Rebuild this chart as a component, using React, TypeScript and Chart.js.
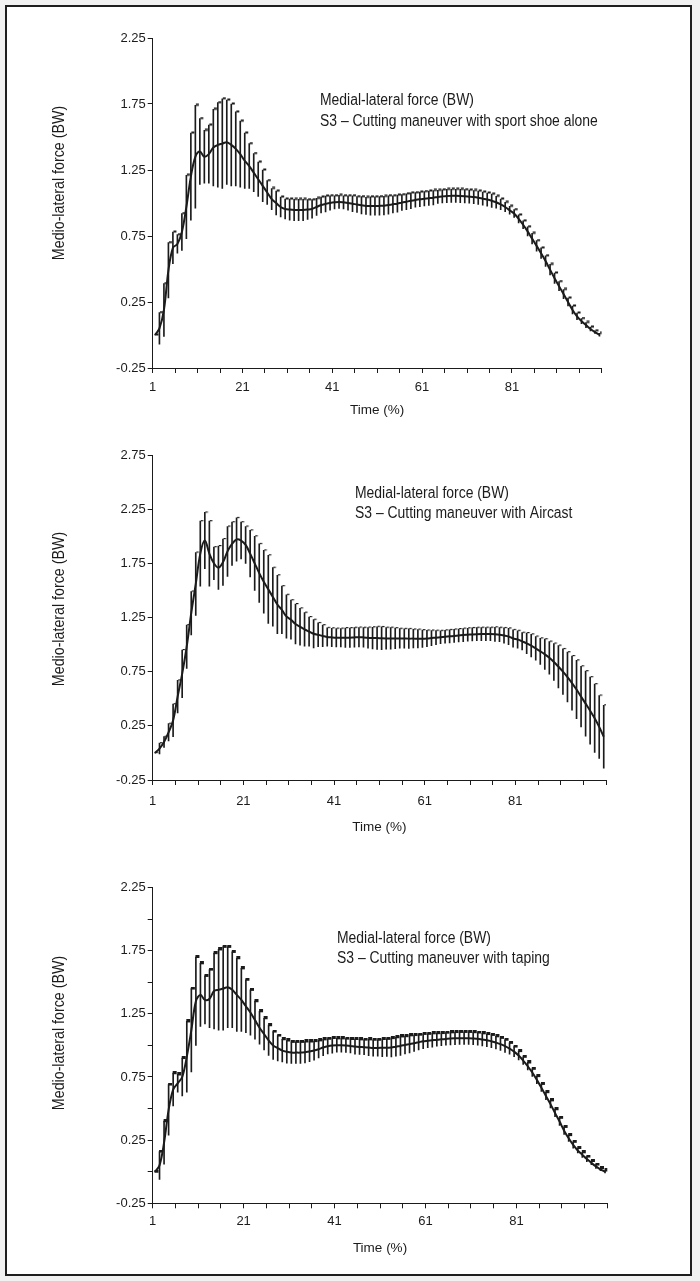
import React, { useEffect, useRef } from 'react';
import { Chart, registerables } from 'chart.js';

Chart.register(...registerables);

// ---------- data ----------
const TIME: number[] = Array.from({ length: 100 }, (_, i) => i + 1); // Time (%) 1..100
const X_TICK_LABELS = ['1', '21', '41', '61', '81'];
const X_TICK_EVERY = 5;

const Y_TITLE = 'Medio-lateral force (BW)';
const X_TITLE = 'Time (%)';
const NOTE_TITLE = 'Medial-lateral force (BW)';
const NOTE_SHOE = 'S3 – Cutting maneuver with sport shoe alone';
const NOTE_AIRCAST = 'S3 – Cutting maneuver with Aircast';
const NOTE_TAPING = 'S3 – Cutting maneuver with taping';

const MEAN_SHOE = [
  0.00, 0.05, 0.19, 0.49, 0.66, 0.69, 0.78, 0.97, 1.20, 1.35,
  1.39, 1.35, 1.37, 1.42, 1.44, 1.45, 1.46, 1.44, 1.41, 1.37,
  1.32, 1.28, 1.23, 1.18, 1.13, 1.08, 1.03, 1.00, 0.97, 0.955,
  0.95, 0.947, 0.947, 0.947, 0.95, 0.955, 0.97, 0.985, 0.993, 1.00,
  1.005, 1.008, 1.005, 1.00, 0.995, 0.988, 0.983, 0.978, 0.977, 0.977,
  0.978, 0.98, 0.985, 0.99, 0.995, 1.003, 1.01, 1.017, 1.023, 1.028,
  1.032, 1.036, 1.04, 1.046, 1.05, 1.053, 1.054, 1.054, 1.053, 1.051,
  1.048, 1.045, 1.04, 1.033, 1.026, 1.017, 1.006, 0.99, 0.97, 0.945,
  0.92, 0.88, 0.835, 0.785, 0.73, 0.675, 0.62, 0.56, 0.495, 0.43,
  0.37, 0.31, 0.25, 0.19, 0.142, 0.105, 0.075, 0.045, 0.022, 0.002,
];
const SD_SHOE = [
  0.00, 0.12, 0.20, 0.21, 0.12, 0.07, 0.14, 0.24, 0.33, 0.39,
  0.25, 0.20, 0.22, 0.29, 0.32, 0.34, 0.32, 0.31, 0.28, 0.25,
  0.21, 0.17, 0.145, 0.13, 0.12, 0.09, 0.08, 0.09, 0.075, 0.075,
  0.08, 0.08, 0.08, 0.08, 0.075, 0.07, 0.065, 0.06, 0.06, 0.055,
  0.05, 0.05, 0.05, 0.055, 0.06, 0.06, 0.065, 0.065, 0.07, 0.07,
  0.07, 0.07, 0.07, 0.065, 0.065, 0.06, 0.06, 0.06, 0.055, 0.055,
  0.055, 0.055, 0.055, 0.05, 0.05, 0.05, 0.05, 0.05, 0.05, 0.05,
  0.05, 0.05, 0.05, 0.05, 0.05, 0.05, 0.045, 0.04, 0.035, 0.03,
  0.03, 0.03, 0.03, 0.035, 0.04, 0.04, 0.04, 0.04, 0.04, 0.04,
  0.035, 0.035, 0.03, 0.03, 0.025, 0.02, 0.02, 0.015, 0.01, 0.01,
];

const MEAN_AIRCAST = [
  0.00, 0.04, 0.10, 0.19, 0.30, 0.52, 0.73, 0.98, 1.29, 1.56,
  1.84, 1.96, 1.84, 1.75, 1.71, 1.76, 1.86, 1.93, 1.97, 1.96,
  1.92, 1.84, 1.75, 1.66, 1.58, 1.51, 1.44, 1.37, 1.32, 1.26,
  1.23, 1.19, 1.165, 1.14, 1.12, 1.10, 1.09, 1.08, 1.07, 1.066,
  1.063, 1.063, 1.063, 1.063, 1.066, 1.068, 1.066, 1.063, 1.06, 1.06,
  1.058, 1.057, 1.057, 1.057, 1.057, 1.056, 1.055, 1.055, 1.054, 1.054,
  1.056, 1.06, 1.064, 1.068, 1.072, 1.076, 1.08, 1.084, 1.088, 1.091,
  1.094, 1.096, 1.097, 1.097, 1.097, 1.095, 1.091, 1.084, 1.075, 1.056,
  1.048, 1.03, 1.012, 0.99, 0.965, 0.938, 0.91, 0.878, 0.84, 0.796,
  0.75, 0.70, 0.645, 0.585, 0.52, 0.455, 0.39, 0.32, 0.24, 0.15,
];
const SD_AIRCAST = [
  0.00, 0.05, 0.05, 0.08, 0.15, 0.15, 0.22, 0.20, 0.20, 0.29,
  0.30, 0.26, 0.30, 0.15, 0.20, 0.215, 0.23, 0.20, 0.20, 0.17,
  0.17, 0.215, 0.25, 0.27, 0.29, 0.315, 0.27, 0.27, 0.22, 0.20,
  0.18, 0.185, 0.17, 0.155, 0.135, 0.13, 0.11, 0.10, 0.085, 0.085,
  0.085, 0.085, 0.09, 0.09, 0.09, 0.09, 0.09, 0.095, 0.10, 0.105,
  0.105, 0.10, 0.10, 0.095, 0.09, 0.09, 0.09, 0.085, 0.085, 0.08,
  0.075, 0.07, 0.065, 0.06, 0.06, 0.06, 0.06, 0.06, 0.06, 0.06,
  0.06, 0.06, 0.06, 0.06, 0.06, 0.065, 0.065, 0.07, 0.075, 0.08,
  0.08, 0.08, 0.095, 0.105, 0.11, 0.12, 0.14, 0.15, 0.17, 0.195,
  0.21, 0.23, 0.25, 0.27, 0.28, 0.30, 0.31, 0.315, 0.29, 0.29,
];

const MEAN_TAPING = [
  0.00, 0.05, 0.23, 0.49, 0.65, 0.70, 0.75, 0.91, 1.12, 1.35,
  1.40, 1.36, 1.37, 1.43, 1.44, 1.45, 1.46, 1.44, 1.40, 1.36,
  1.31, 1.26, 1.20, 1.14, 1.09, 1.04, 1.00, 0.978, 0.959, 0.949,
  0.943, 0.943, 0.943, 0.946, 0.951, 0.959, 0.97, 0.983, 0.993, 0.999,
  1.001, 1.001, 0.999, 0.996, 0.991, 0.988, 0.986, 0.983, 0.98, 0.98,
  0.981, 0.982, 0.983, 0.99, 0.996, 1.003, 1.01, 1.017, 1.025, 1.033,
  1.037, 1.041, 1.045, 1.048, 1.051, 1.054, 1.056, 1.057, 1.057, 1.057,
  1.055, 1.052, 1.046, 1.04, 1.033, 1.022, 1.01, 0.995, 0.975, 0.951,
  0.92, 0.88, 0.835, 0.785, 0.727, 0.665, 0.60, 0.535, 0.465, 0.397,
  0.325, 0.265, 0.212, 0.168, 0.134, 0.10, 0.07, 0.042, 0.018, 0.00,
];
const SD_TAPING = [
  0.00, 0.11, 0.17, 0.20, 0.13, 0.07, 0.15, 0.28, 0.33, 0.35,
  0.25, 0.19, 0.23, 0.30, 0.32, 0.33, 0.32, 0.30, 0.29, 0.25,
  0.21, 0.18, 0.15, 0.13, 0.125, 0.12, 0.11, 0.10, 0.09, 0.09,
  0.085, 0.085, 0.085, 0.085, 0.08, 0.075, 0.07, 0.065, 0.06, 0.06,
  0.055, 0.055, 0.055, 0.055, 0.06, 0.06, 0.06, 0.065, 0.065, 0.065,
  0.07, 0.07, 0.075, 0.075, 0.075, 0.07, 0.07, 0.065, 0.06, 0.058,
  0.055, 0.055, 0.052, 0.05, 0.05, 0.05, 0.05, 0.05, 0.05, 0.05,
  0.05, 0.05, 0.05, 0.05, 0.05, 0.05, 0.05, 0.05, 0.045, 0.04,
  0.035, 0.03, 0.03, 0.03, 0.03, 0.03, 0.03, 0.03, 0.03, 0.03,
  0.03, 0.025, 0.025, 0.02, 0.02, 0.02, 0.015, 0.015, 0.01, 0.01,
];

// ---------- styling ----------
const INK = '#1b1b1b';
const FONT = "'Liberation Sans', Arial, sans-serif";

const panelTextPlugin = {
  id: 'panelText',
  afterDraw(chart: any, _args: any, opts: any) {
    const ctx = chart.ctx;
    ctx.save();
    ctx.fillStyle = opts.color;
    ctx.font = opts.yTitleFont;
    ctx.translate(opts.yTitleX, opts.yTitleY);
    ctx.rotate(-Math.PI / 2);
    ctx.scale(opts.yTitleSqueeze, 1);
    ctx.textAlign = 'center';
    ctx.textBaseline = 'middle';
    ctx.fillText(opts.yTitle, 0, 0);
    ctx.restore();

    (opts.noteLines as string[]).forEach((line, k) => {
      ctx.save();
      ctx.fillStyle = opts.color;
      ctx.font = opts.noteFont;
      ctx.textAlign = 'left';
      ctx.textBaseline = 'alphabetic';
      ctx.translate(opts.noteX, opts.noteY + k * opts.noteGap);
      ctx.scale(opts.noteSqueeze, 1);
      ctx.fillText(line, 0, 0);
      ctx.restore();
    });
  },
};

function makeCap(rect: [number, number, number, number]) {
  const c = document.createElement('canvas');
  c.width = 9;
  c.height = 4;
  const g = c.getContext('2d')!;
  g.fillStyle = INK;
  g.fillRect(rect[0], rect[1], rect[2], rect[3]);
  return c;
}

type PanelProps = {
  mean: number[];
  sd: number[];
  note: string;
  yMax: number;
  yStep: number;
  labelEvery: number;
  canvasTop: number;
  canvasHeight: number;
  areaTop: number;
  areaBottom: number;
  areaRight: number;
  xAxisH: number;
  xTickPad: number;
  yTitleY: number;
  noteX: number;
  noteY: number;
  cap: [number, number, number, number];
};

function Panel(p: PanelProps) {
  const ref = useRef<HTMLCanvasElement | null>(null);
  useEffect(() => {
    if (!ref.current) return;
    const xMin = TIME[0] - 0.5;
    const xMax = TIME[TIME.length - 1] + 0.5;
    const xTickValues: number[] = [];
    for (let v = xMin; v <= xMax + 1e-9; v += X_TICK_EVERY) xTickValues.push(v);

    const capImg = makeCap(p.cap);
    const chart = new Chart(ref.current, {
      type: 'line',
      data: {
        datasets: [
          {
            type: 'line',
            label: 'Mean',
            data: TIME.map((t, i) => ({ x: t, y: p.mean[i] })),
            borderColor: INK,
            borderWidth: 2,
            pointRadius: 0,
            tension: 0.35,
            fill: false,
            order: 0,
          },
          {
            type: 'bar',
            label: 'SD',
            data: TIME.map((t, i) => ({ x: t, y: [p.mean[i] - p.sd[i], p.mean[i] + p.sd[i]] })),
            backgroundColor: INK,
            borderWidth: 0,
            barThickness: 1,
            order: 1,
          },
          {
            type: 'line',
            label: 'SD cap',
            data: TIME.map((t, i) => ({ x: t, y: p.mean[i] + p.sd[i] })),
            showLine: false,
            pointStyle: capImg,
            pointRadius: 2,
            order: 2,
          },
        ] as any,
      },
      options: {
        animation: false,
        responsive: false,
        devicePixelRatio: 1,
        layout: {
          padding: {
            left: 0,
            right: 700 - p.areaRight,
            top: p.areaTop,
            bottom: p.canvasHeight - p.areaBottom - p.xAxisH,
          },
        },
        plugins: {
          legend: { display: false },
          tooltip: { enabled: false },
          panelText: {
            color: INK,
            yTitle: Y_TITLE,
            yTitleFont: `16px ${FONT}`,
            yTitleSqueeze: 0.89,
            yTitleX: 59.5,
            yTitleY: p.yTitleY,
            noteLines: [NOTE_TITLE, p.note],
            noteFont: `16px ${FONT}`,
            noteSqueeze: 0.87,
            noteX: p.noteX,
            noteY: p.noteY,
            noteGap: 20.8,
          },
        } as any,
        scales: {
          x: {
            type: 'linear',
            min: xMin,
            max: xMax,
            offset: false,
            afterBuildTicks: (scale: any) => {
              scale.ticks = xTickValues.map((v) => ({ value: v }));
            },
            afterFit: (scale: any) => {
              scale.height = p.xAxisH;
            },
            grid: {
              display: true,
              offset: false,
              drawOnChartArea: false,
              drawTicks: true,
              tickLength: 5,
              color: INK,
              lineWidth: 1,
            },
            border: { display: true, color: INK, width: 1 },
            ticks: {
              autoSkip: false,
              maxRotation: 0,
              padding: p.xTickPad,
              color: INK,
              font: { family: FONT, size: 13 },
              callback: (value: any) => {
                const label = String(Math.round(Number(value) + 0.5));
                return X_TICK_LABELS.includes(label) ? label : '';
              },
            },
            title: {
              display: true,
              text: X_TITLE,
              color: INK,
              padding: 0,
              font: { family: FONT, size: 13.5 },
            },
          },
          y: {
            type: 'linear',
            min: -0.25,
            max: p.yMax,
            afterFit: (scale: any) => {
              scale.width = 152.7;
            },
            grid: {
              display: true,
              drawOnChartArea: false,
              drawTicks: true,
              tickLength: 5,
              color: INK,
              lineWidth: 1,
            },
            border: { display: true, color: INK, width: 1 },
            ticks: {
              stepSize: p.yStep,
              autoSkip: false,
              padding: 2,
              color: INK,
              font: { family: FONT, size: 13 },
              callback: (value: any, index: number) =>
                index % p.labelEvery === 0 ? Number(value).toFixed(2) : '',
            },
          },
        },
      } as any,
      plugins: [panelTextPlugin as any],
    });
    return () => chart.destroy();
  }, []);

  return (
    <canvas
      ref={ref}
      width={700}
      height={p.canvasHeight}
      style={{
        position: 'absolute',
        left: 0,
        top: p.canvasTop,
        width: 700,
        height: p.canvasHeight,
        display: 'block',
      }}
    />
  );
}

export default function App() {
  return (
    <div
      style={{
        position: 'absolute',
        left: 0,
        top: 0,
        width: 700,
        height: 1281,
        background: '#f1f1f1',
        overflow: 'hidden',
      }}
    >
      <div
        style={{
          position: 'absolute',
          left: 5,
          top: 5,
          width: 687,
          height: 1271,
          boxSizing: 'border-box',
          border: '2px solid #1e1e1e',
          background: '#ffffff',
        }}
      />
      <Panel
        mean={MEAN_SHOE}
        sd={SD_SHOE}
        note={NOTE_SHOE}
        yMax={2.25}
        yStep={0.5}
        labelEvery={1}
        canvasTop={0}
        canvasHeight={430}
        areaTop={38}
        areaBottom={368}
        areaRight={601.7}
        xAxisH={50.1}
        xTickPad={6.6}
        yTitleY={183}
        noteX={320}
        noteY={105.3}
        cap={[5, 0.5, 3, 2]}
      />
      <Panel
        mean={MEAN_AIRCAST}
        sd={SD_AIRCAST}
        note={NOTE_AIRCAST}
        yMax={2.75}
        yStep={0.5}
        labelEvery={1}
        canvasTop={430}
        canvasHeight={420}
        areaTop={25}
        areaBottom={350}
        areaRight={606}
        xAxisH={55.1}
        xTickPad={8.6}
        yTitleY={179}
        noteX={355}
        noteY={67.5}
        cap={[5, 1, 2.5, 1.2]}
      />
      <Panel
        mean={MEAN_TAPING}
        sd={SD_TAPING}
        note={NOTE_TAPING}
        yMax={2.25}
        yStep={0.25}
        labelEvery={2}
        canvasTop={850}
        canvasHeight={425}
        areaTop={37.5}
        areaBottom={353.3}
        areaRight={607.3}
        xAxisH={52.8}
        xTickPad={5.6}
        yTitleY={183}
        noteX={337}
        noteY={92.5}
        cap={[4, 0, 4, 3]}
      />
    </div>
  );
}
